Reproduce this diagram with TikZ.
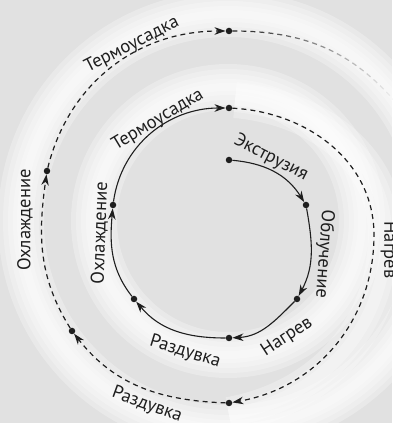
\documentclass[tikz,border=0pt]{standalone}
\usepackage{fontspec}
\setmainfont{PT Sans}
\usetikzlibrary{arrows.meta,fadings}
\definecolor{bgc}{RGB}{225,225,225}
\definecolor{ink}{RGB}{30,30,30}
\begin{document}
\begin{tikzpicture}[x=1pt,y=1pt,
  dot/.style={circle,fill=ink,inner sep=0pt,minimum size=6.5pt},
  tip/.style={-{Stealth[length=11pt,width=7.5pt,inset=3.5pt]}},
  solidline/.style={line width=1.1pt,draw=ink,tip},
  dashline/.style={line width=1.2pt,draw=ink,dash pattern=on 5pt off 4pt},
  lbl/.style={font=\fontsize{18.5}{20}\selectfont,text=ink,inner sep=0pt},
  glow/.style={draw=white,line width=#1,opacity=0.27}]
\fill[bgc] (0,0) rectangle (392,423);
\useasboundingbox (0,0) rectangle (392,423);
% soft white halos
\coordinate (c) at (228,202);
\foreach \w in {46,36,26,16,8}{
  \draw[glow=\w pt] (c) circle[radius=134];
  \draw[glow=\w pt] (c) circle[radius=207];
}
\foreach \w in {36,24,12}{
  \draw[glow=\w pt] (235,323) to[out=-5,in=90] (386,188) to[out=-90,in=10] (229,8);
}
% dots
\node[dot] (s0) at (229,263) {};
\node[dot] (s1) at (306,218) {};
\node[dot] (s2) at (297,124) {};
\node[dot] (s3) at (229,85) {};
\node[dot] (s4) at (134,124) {};
\node[dot] (s5) at (113,218) {};
\node[dot] (s6) at (229,315) {};
\coordinate (r) at (374,188);
\node[dot] (o1) at (229,20) {};
\node[dot] (o2) at (72,92) {};
\node[dot] (o3) at (47,252) {};
\node[dot] (o4) at (229,392) {};
\coordinate (t) at (398,318);
% inner solid spiral
\draw[solidline] (s0) to[out=-5,in=122] (s1);
\draw[solidline] (s1) to[out=-80,in=62] (s2);
\draw[solidline] (s2) to[out=-135,in=3] (s3);
\draw[solidline] (s3) to[out=180,in=-50] (s4);
\draw[solidline] (s4) to[out=128,in=-95] (s5);
\draw[solidline] (s5) to[out=82,in=180] (s6);
% dashed spiral
\draw[dashline,tip] (s6) to[out=-3,in=90] (r) to[out=-90,in=10] (o1);
\draw[dashline,tip] (o1) to[out=178,in=-52] (o2);
\draw[dashline,tip] (o2) to[out=122,in=-98] (o3);
\draw[dashline,tip] (o3) to[out=76,in=180] (o4);
\draw[dashline,path fading=east] (o4) to[out=0,in=130] (t);
% labels
\node[lbl,rotate=-27] (l1) at (271,265) {Экструзия};
\node[lbl,rotate=-94] (l2) at (324,169) {Облучение};
\node[lbl,rotate=33] (l3) at (287,86) {Нагрев};
\node[lbl,rotate=-17] (l4) at (185,71) {Раздувка};
\node[lbl,rotate=88] (l5) at (100,190) {Охлаждение};
\node[lbl,rotate=31] (l6) at (158,303) {Термоусадка};
\node[lbl,rotate=27] (l7) at (132,378) {Термоусадка};
\node[lbl,rotate=90] (l8) at (25,203) {Охлаждение};
\node[lbl,rotate=-20] (l9) at (147,18) {Раздувка};
\node[lbl,rotate=-90] (l10) at (389,173) {Нагрев};
\end{tikzpicture}
\end{document}
